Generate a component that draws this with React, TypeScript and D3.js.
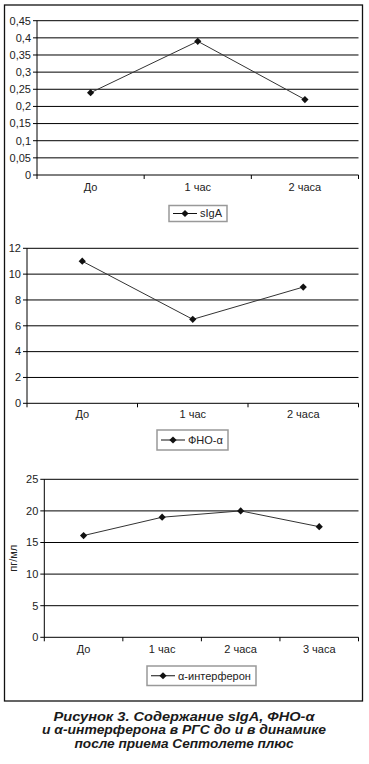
import React from "react";
import * as d3 from "d3";

const categories3 = ["До", "1 час", "2 часа"];
const categories4 = ["До", "1 час", "2 часа", "3 часа"];
const sigaValues = [0.24, 0.39, 0.22];
const tnfValues = [11, 6.5, 9];
const ifnValues = [16.1, 19, 20, 17.5];
const sigaTicks = [0, 0.05, 0.1, 0.15, 0.2, 0.25, 0.3, 0.35, 0.4, 0.45];
const tnfTicks = [0, 2, 4, 6, 8, 10, 12];
const ifnTicks = [0, 5, 10, 15, 20, 25];
const legendNames = ["sIgA", "ФНО-α", "α-интерферон"];
const captionLines = [
  "Рисунок 3. Содержание sIgA, ФНО-α",
  "и α-интерферона в РГС до и в динамике",
  "после приема Септолете плюс",
];
const captionWidths = [261, 284, 219];

const FONT = "'Liberation Sans', Arial, sans-serif";
const TXT = "#222";

type ChartProps = {
  cats: string[];
  values: number[];
  ticks: number[];
  left: number;
  right: number;
  top: number;
  bottom: number;
  catY: number;
  legend: { x: number; y: number; w: number; h: number; name: string };
  yLabel?: string;
};

const fmt = (v: number) => String(+v.toFixed(2)).replace(".", ",");

function Chart(p: ChartProps) {
  const x = d3.scaleBand<string>().domain(p.cats).range([p.left, p.right]);
  const y = d3
    .scaleLinear()
    .domain([0, p.ticks[p.ticks.length - 1]])
    .range([p.bottom, p.top]);
  const line = d3
    .line<number>()
    .x((_, i) => (x(p.cats[i]) as number) + x.bandwidth() / 2)
    .y((d) => y(d));
  const marker = d3.symbol().type(d3.symbolSquare).size(26)() as string;
  const bounds = p.cats.map((c) => x(c) as number).concat([p.right]);
  const L = p.legend;
  return (
    <g>
      {p.ticks.map((t) => (
        <g key={t}>
          <line x1={p.left - 4} x2={p.right} y1={y(t)} y2={y(t)} stroke="#000" strokeWidth={1} />
          <text x={p.left - 6} y={y(t)} dy="0.35em" textAnchor="end" fontSize={11} fill={TXT} fontFamily={FONT}>
            {fmt(t)}
          </text>
        </g>
      ))}
      <line x1={p.left} x2={p.left} y1={p.top} y2={p.bottom} stroke="#000" strokeWidth={1} />
      {bounds.map((b, i) => (
        <line key={i} x1={b} x2={b} y1={p.bottom} y2={p.bottom + 4} stroke="#000" strokeWidth={1} />
      ))}
      {p.cats.map((c) => (
        <text key={c} x={(x(c) as number) + x.bandwidth() / 2} y={p.catY} dy="0.35em" textAnchor="middle" fontSize={11} fill={TXT} fontFamily={FONT}>
          {c}
        </text>
      ))}
      <path d={line(p.values) as string} fill="none" stroke="#333" strokeWidth={1} />
      {p.values.map((v, i) => (
        <path key={i} d={marker} fill="#111" transform={`translate(${(x(p.cats[i]) as number) + x.bandwidth() / 2},${y(v)}) rotate(45)`} />
      ))}
      {p.yLabel && (
        <text transform={`translate(13,${(p.top + p.bottom) / 2}) rotate(-90)`} textAnchor="middle" dy="0.35em" fontSize={11} fill={TXT} fontFamily={FONT}>
          {p.yLabel}
        </text>
      )}
      <rect x={L.x} y={L.y} width={L.w} height={L.h} fill="#fff" stroke="#999" strokeWidth={1.5} />
      <line x1={L.x + 4} x2={L.x + 28} y1={L.y + L.h / 2} y2={L.y + L.h / 2} stroke="#111" strokeWidth={1} />
      <path d={marker} fill="#111" transform={`translate(${L.x + 16},${L.y + L.h / 2}) rotate(45)`} />
      <text x={L.x + 31} y={L.y + L.h / 2} dy="0.35em" fontSize={11} fill={TXT} fontFamily={FONT}>
        {L.name}
      </text>
    </g>
  );
}

export default function App() {
  return (
    <svg width={369} height={764} style={{ position: "absolute", left: 0, top: 0, background: "#fff" }}>
      <rect x={0} y={0} width={369} height={764} fill="#fff" />
      <rect x={4.5} y={5} width={358} height={696} fill="none" stroke="#111" strokeWidth={1.3} />
      <Chart
        cats={categories3}
        values={sigaValues}
        ticks={sigaTicks}
        left={37}
        right={358.5}
        top={20.7}
        bottom={175}
        catY={187}
        legend={{ x: 169, y: 205.5, w: 58, h: 16, name: legendNames[0] }}
      />
      <Chart
        cats={categories3}
        values={tnfValues}
        ticks={tnfTicks}
        left={27}
        right={358.5}
        top={248.3}
        bottom={403.3}
        catY={414.5}
        legend={{ x: 157, y: 430, w: 71, h: 20, name: legendNames[1] }}
      />
      <Chart
        cats={categories4}
        values={ifnValues}
        ticks={ifnTicks}
        left={44.3}
        right={358.5}
        top={479.3}
        bottom={637.3}
        catY={649.5}
        legend={{ x: 147, y: 666, w: 109, h: 19.5, name: legendNames[2] }}
        yLabel="пг/мл"
      />
      {captionLines.map((t, i) => (
        <text
          key={i}
          x={184}
          y={716.5 + i * 13.5}
          dy="0.35em"
          textAnchor="middle"
          fontSize={12}
          fontWeight="bold"
          fontStyle="italic"
          fill="#1a1a1a"
          fontFamily={FONT}
          textLength={captionWidths[i]}
          lengthAdjust="spacingAndGlyphs"
        >
          {t}
        </text>
      ))}
    </svg>
  );
}
